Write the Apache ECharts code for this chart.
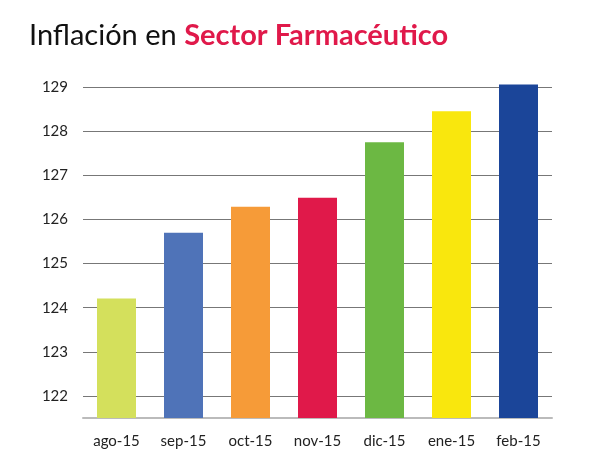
<!DOCTYPE html>
<html>
<head>
<meta charset="utf-8">
<script src="https://cdn.jsdelivr.net/npm/echarts@6/dist/echarts.min.js"></script>
<style>html,body{margin:0;padding:0;background:#fff}#grf{width:600px;height:473px}</style>
</head>
<body>
<div id="grf"></div>
<script>
// Datos del grafico
var meses = ['ago-15', 'sep-15', 'oct-15', 'nov-15', 'dic-15', 'ene-15', 'feb-15'];
var valores = [124.21, 125.70, 126.29, 126.49, 127.75, 128.45, 129.06];
var cores = ['#d4e05c', '#4f73b8', '#f69b38', '#e0194a', '#6cb843', '#f9e70d', '#1b4599'];

var grafico = echarts.init(document.getElementById('grf'));

var dados = [];
for (var i = 0; i < valores.length; i++) {
	dados.push({ value: valores[i], itemStyle: { color: cores[i] } });
}

grafico.setOption({
	animation: false,
	title: {
		text: '{a|Inflación en }{b|Sector Farmacéutico}',
		left: 24,
		top: 16,
		textStyle: {
			fontWeight: 'normal',
			rich: {
				a: { fontFamily: 'Lato', fontSize: 29, fontWeight: 'normal', color: '#111' },
				b: { fontFamily: 'Lato', fontSize: 29, fontWeight: 'bold', color: '#e0194a' }
			}
		}
	},
	grid: { left: 83, right: 48, top: 65, bottom: 55 },
	xAxis: {
		type: 'category',
		data: meses,
		axisLine: { lineStyle: { color: '#bbb', width: 2 } },
		axisTick: { show: false },
		axisLabel: { fontFamily: 'Lato', fontSize: 15, color: '#222', margin: 16 }
	},
	yAxis: {
		type: 'value',
		min: 121.5,
		max: 129.5,
		interval: 0.5,
		axisLine: { show: false },
		axisTick: { show: false },
		axisLabel: {
			fontFamily: 'Lato', fontSize: 15, color: '#222', margin: 15,
			formatter: function (v) { return v % 1 === 0 ? String(v) : ''; }
		},
		splitLine: { lineStyle: { color: ['transparent', '#777'], width: 1 } }
	},
	series: [{
		type: 'bar',
		data: dados,
		barWidth: 39
	}]
});
</script>
</body>
</html>
